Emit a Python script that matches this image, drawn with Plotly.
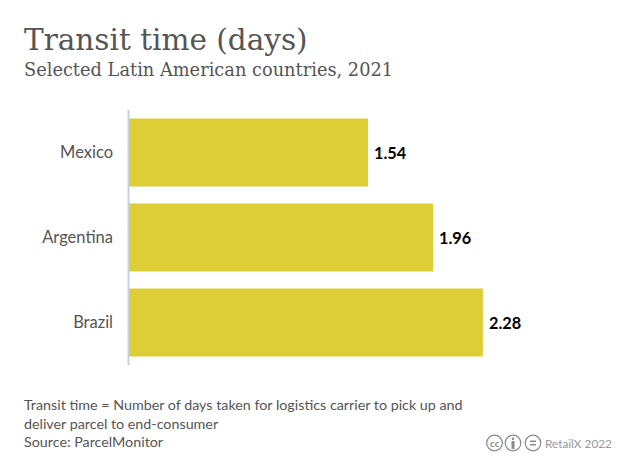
import plotly.graph_objects as go

categories = ["Mexico", "Argentina", "Brazil"]
values = [1.54, 1.96, 2.28]
value_labels = ["1.54", "1.96", "2.28"]
title = "Transit time (days)"
subtitle = "Selected Latin American countries, 2021"
note_lines = ["Transit time = Number of days taken for logistics carrier to pick up and",
              "deliver parcel to end-consumer", "Source: ParcelMonitor"]
credit = "RetailX 2022"

W, H = 634, 469
L, R, T, B = 129, 600, 110, 365
SANS = "Lato"
SERIF = "DejaVu Serif"
def px(x): return (x - L) / (R - L)
def py(y): return (B - y) / (B - T)

fig = go.Figure(go.Bar(
    y=categories, x=values, orientation="h", marker=dict(color="#DDCD37", line_width=0),
    cliponaxis=False, hoverinfo="skip",
))

def text(x, y, s, size, color, family=SANS, anchor="left", weight=None):
    fig.add_annotation(x=px(x), y=py(y), xref="paper", yref="paper", text=s, showarrow=False,
                       xanchor=anchor, yanchor="middle", align=anchor,
                       font=dict(family=family, size=size, color=color, weight=weight), borderpad=0)

text(23, 40, title, 29.5, "#555555", SERIF)
text(23, 70, subtitle, 17.8, "#555555", SERIF)
for i, line in enumerate(note_lines):
    text(23, 405 + i * 18, line, 14.3, "#555555")
text(544, 443.5, credit, 11.8, "#999999")
for cat, val, lab in zip(categories, values, value_labels):
    fig.add_annotation(x=val, y=cat, xref="x", yref="y", text=lab, showarrow=False, xanchor="left",
                       xshift=4, font=dict(family=SANS, size=16.3, color="#000000", weight="bold"))

ICON = "#8a8a8a"
def circle(cx, cy, r, **kw):
    fig.add_shape(type="circle", xref="paper", yref="paper", x0=px(cx - r), x1=px(cx + r),
                  y0=py(cy + r), y1=py(cy - r), **kw)
def line(x0, y0, x1, y1, w=1.5):
    fig.add_shape(type="line", xref="paper", yref="paper", x0=px(x0), x1=px(x1), y0=py(y0), y1=py(y1),
                  line=dict(color=ICON, width=w))
for cx in (494.5, 513, 533):
    circle(cx, 443, 7.8, line=dict(color=ICON, width=1.2), fillcolor="rgba(0,0,0,0)")
text(494.5, 443, "cc", 10, ICON, anchor="center", weight="bold")
circle(513, 438.7, 1.3, fillcolor=ICON, line_width=0)
line(513, 441, 513, 449, 3)
line(530, 441.3, 536, 441.3)
line(530, 444.7, 536, 444.7)

fig.update_layout(
    width=W, height=H, autosize=False, paper_bgcolor="#ffffff", plot_bgcolor="#ffffff",
    margin=dict(l=L, r=W - R, t=T, b=H - B, pad=0), bargap=0.2, showlegend=False,
    xaxis=dict(range=[0, (R - L) / 155.2], visible=False, fixedrange=True),
    yaxis=dict(autorange="reversed", showgrid=False, zeroline=False, ticks="", showline=False,
               ticklabelstandoff=15, tickfont=dict(family=SANS, size=16.5, color="#555555"), fixedrange=True),
)
fig.add_shape(type="line", xref="paper", yref="paper", x0=px(128.5), x1=px(128.5), y0=0, y1=1,
              line=dict(color="#C3D0E8", width=2), layer="above")
fig.write_html("out.html", config=dict(displayModeBar=False),
               post_script="document.body.style.margin='0';")
